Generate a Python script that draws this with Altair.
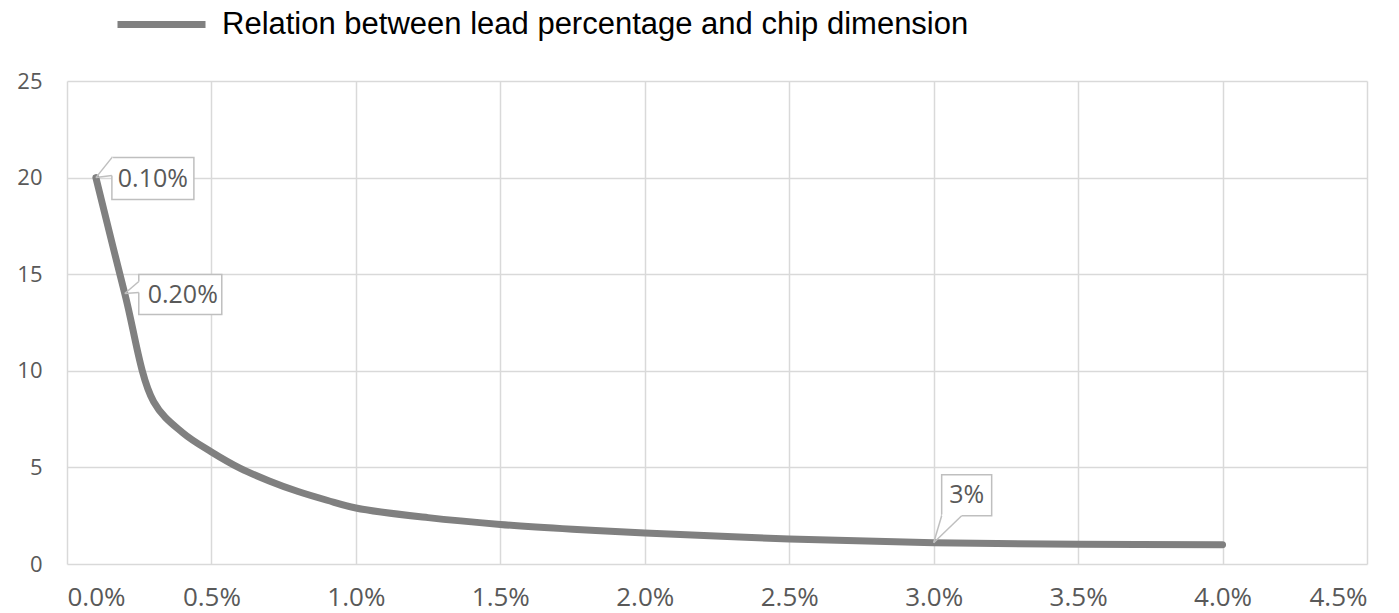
import altair as alt
import pandas as pd

# Lead content (fraction) vs. chip dimension
lead_pct = [0.001, 0.002, 0.003, 0.004, 0.005, 0.006, 0.007, 0.008, 0.009, 0.010,
            0.0125, 0.015, 0.0175, 0.020, 0.025, 0.030, 0.035, 0.040]
chip_dim = [20.0, 14.0, 8.4, 6.8, 5.8, 4.95, 4.3, 3.75, 3.3, 2.9,
            2.4, 2.05, 1.8, 1.6, 1.3, 1.1, 1.02, 1.0]
series_name = "Relation between lead percentage and chip dimension"

label_pct = [0.001, 0.002, 0.030]
label_dim = [20.0, 14.0, 1.1]
label_text = ["0.10%", "0.20%", "3%"]

x_ticks = [i * 0.005 for i in range(10)]
y_ticks = [0, 5, 10, 15, 20, 25]

df = pd.DataFrame({"pct": lead_pct, "dim": chip_dim, "series": series_name})
lab = pd.DataFrame({"pct": label_pct, "dim": label_dim, "txt": label_text})

GREY_TXT = "#595959"
BOX = "#bfbfbf"
FONT = "Open Sans"

x_enc = alt.X("pct:Q", scale=alt.Scale(domain=[0, 0.045], nice=False),
              axis=alt.Axis(values=x_ticks, format=".1%", title=None,
                            labelFontSize=26, labelPadding=20))
y_enc = alt.Y("dim:Q", scale=alt.Scale(domain=[0, 25], nice=False),
              axis=alt.Axis(values=y_ticks, title=None,
                            labelFontSize=22, labelPadding=25))

line = alt.Chart(df).mark_line(
    strokeWidth=7, strokeCap="round", strokeJoin="round", interpolate="catmull-rom"
).encode(
    x=x_enc, y=y_enc,
    color=alt.Color("series:N", scale=alt.Scale(range=["#808080"]),
                    legend=alt.Legend(title=None, orient="none", legendX=47, legendY=-104,
                                      symbolType="stroke", symbolSize=7744,
                                      symbolStrokeWidth=7, labelFontSize=31,
                                      labelFont="Liberation Sans", labelColor="black",
                                      labelOffset=13, padding=0, labelLimit=1000))
)


def callout(row, box, tip_a, tip_b, text_dx, text_dy):
    """Boxed data label with a wedge pointing at the point."""
    base = alt.Chart(lab[lab.txt == row]).encode(
        x=alt.X("pct:Q"), y=alt.Y("dim:Q"))
    rect = base.mark_rect(fill="white", stroke=BOX, strokeWidth=1.5,
                          xOffset=box[0], x2Offset=box[1],
                          yOffset=box[2], y2Offset=box[3]).encode(x2="pct:Q", y2="dim:Q")
    gap = base.mark_rule(color="white", strokeWidth=2.5,
                         xOffset=tip_a[0], yOffset=tip_a[1],
                         x2Offset=tip_b[0], y2Offset=tip_b[1]).encode(x2="pct:Q", y2="dim:Q")
    wedge_a = base.mark_rule(color=BOX, strokeWidth=1.5,
                             x2Offset=tip_a[0], y2Offset=tip_a[1]).encode(x2="pct:Q", y2="dim:Q")
    wedge_b = base.mark_rule(color=BOX, strokeWidth=1.5,
                             x2Offset=tip_b[0], y2Offset=tip_b[1]).encode(x2="pct:Q", y2="dim:Q")
    text = base.mark_text(font=FONT, fontSize=25, color=GREY_TXT,
                          dx=text_dx, dy=text_dy, align="center",
                          baseline="middle").encode(text="txt:N")
    return [rect, gap, wedge_a, wedge_b, text]


layers = [line]
layers += callout("0.10%", (16, 98, -20, 22), (16, -20), (16, -2), 57, 1)
layers += callout("0.20%", (14, 97, -19, 21), (14, -12), (14, -1), 58, 1)
layers += callout("3%", (8, 58, -68, -27), (8, -27), (28, -27), 33, -48)

chart = alt.layer(*layers).properties(
    width=1300, height=483,
    autosize=alt.AutoSizeParams(type="none"),
    padding={"left": 67, "top": 81, "right": 32, "bottom": 49},
).configure_view(stroke=None).configure_axis(
    grid=True, gridColor="#d9d9d9", gridWidth=1.5, domain=False, ticks=False,
    labelFont=FONT, labelColor=GREY_TXT,
)

chart.save("out.html", embed_options={"renderer": "svg", "actions": False})
